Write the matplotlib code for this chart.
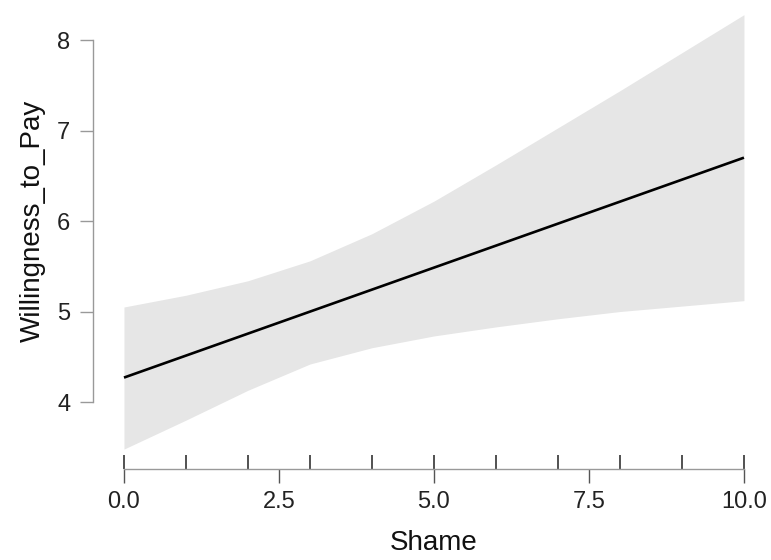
import matplotlib
matplotlib.use("Agg")
import matplotlib.pyplot as plt
import matplotlib.transforms as mtransforms

# values
shame = [0, 1, 2, 3, 4, 5, 6, 7, 8, 9, 10]
fit_start, fit_end = 4.27, 6.70
ci_upper = [5.05, 5.18, 5.34, 5.56, 5.86, 6.22, 6.62, 7.03, 7.44, 7.86, 8.28]
ci_lower = [3.48, 3.80, 4.13, 4.42, 4.60, 4.73, 4.83, 4.92, 5.00, 5.06, 5.12]
rug_shame = [0, 1, 2, 3, 4, 5, 6, 7, 8, 9, 10]
x_ticks = [0.0, 2.5, 5.0, 7.5, 10.0]
y_ticks = [4, 5, 6, 7, 8]

plt.rcParams['font.family'] = ['Liberation Sans', 'DejaVu Sans']

fig = plt.figure(figsize=(7.71, 5.60), dpi=100)
ax = fig.add_axes([0.1206, 0.1625, 0.8604, 0.8307])

ax.fill_between(shame, ci_lower, ci_upper, color='#e6e6e6', linewidth=0)
ax.plot([shame[0], shame[-1]], [fit_start, fit_end], color='black', lw=1.9,
        solid_capstyle='butt')

xlim = (-0.5, 10.2)
ylim = (3.26, 8.4)
ax.set_xlim(*xlim)
ax.set_ylim(*ylim)

# rug of observed values, pointing up from the x axis
trans = mtransforms.blended_transform_factory(ax.transData, ax.transAxes)
ax.vlines(rug_shame, 0, 0.030, transform=trans, color='#222222', lw=1.1)

for s in ['top', 'right']:
    ax.spines[s].set_visible(False)
ax.spines['left'].set_bounds(y_ticks[0], y_ticks[-1])
ax.spines['bottom'].set_bounds(x_ticks[0], x_ticks[-1])
for s in ['left', 'bottom']:
    ax.spines[s].set_color('#999999')
    ax.spines[s].set_linewidth(1.0)

ax.set_xticks(x_ticks)
ax.set_xticklabels([f"{v:.1f}" for v in x_ticks])
ax.set_yticks(y_ticks)
ax.tick_params(axis='x', length=10, width=1.0, color='#555555', pad=6,
               labelsize=17, labelcolor='#222222')
ax.tick_params(axis='y', length=9.4, width=1.0, color='#999999', pad=7,
               labelsize=17, labelcolor='#222222')

ax.set_xlabel('Shame', fontsize=20, color='#111111', labelpad=12)
ax.set_ylabel('Willingness_to_Pay', fontsize=20, color='#111111', labelpad=8)

# centre the axis titles on the drawn axis lines, not the whole axes box
x_mid = (x_ticks[0] + x_ticks[-1]) / 2
y_mid = (y_ticks[0] + y_ticks[-1]) / 2
ax.xaxis.label.set_x((x_mid - xlim[0]) / (xlim[1] - xlim[0]))
ax.yaxis.label.set_y((y_mid - ylim[0]) / (ylim[1] - ylim[0]))

fig.savefig('out.png', dpi=100)
